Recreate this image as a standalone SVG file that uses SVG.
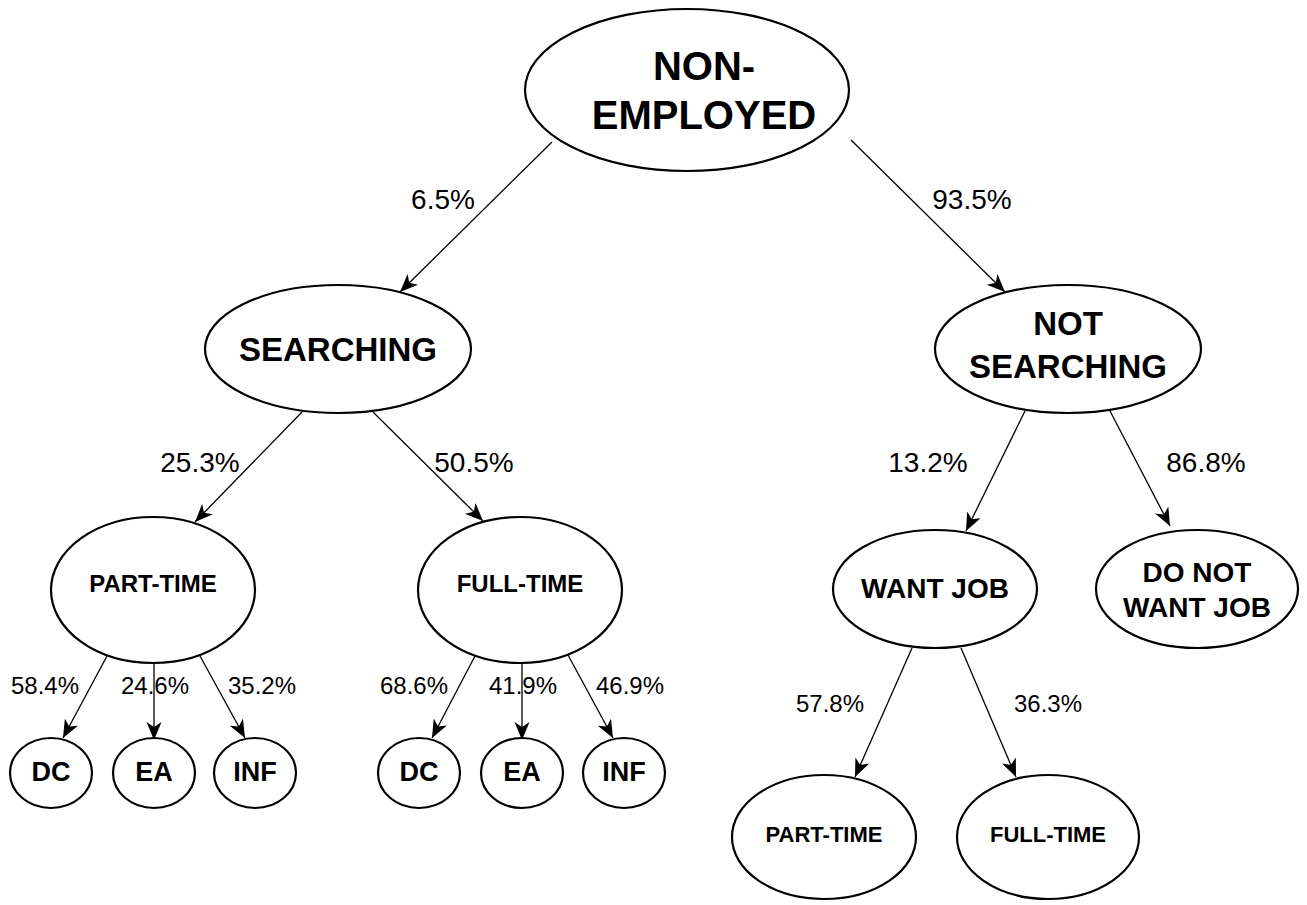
<svg xmlns="http://www.w3.org/2000/svg" width="1307" height="905" viewBox="0 0 1307 905">
<style>
.n{fill:#fff;stroke:#000;stroke-width:2.2}
.t{font-family:"Liberation Sans",Arial,sans-serif;font-weight:bold;text-anchor:middle;fill:#000}
.e{stroke:#000;stroke-width:1.3;fill:none;marker-end:url(#arr)}
.p{font-family:"Liberation Sans",Arial,sans-serif;text-anchor:middle;fill:#000}
</style>
<defs>
<marker id="arr" markerUnits="userSpaceOnUse" markerWidth="20" markerHeight="16" refX="18" refY="7.5" orient="auto">
<path d="M0,0 L18,7.5 L0,15 L5,7.5 Z" fill="#000"/>
</marker>
</defs>
<rect width="1307" height="905" fill="#fff"/>
<g id="connectors">
<line class="e" x1="552" y1="142" x2="400" y2="292"/>
<line class="e" x1="851" y1="140" x2="1005" y2="292"/>
<line class="e" x1="302" y1="412" x2="195" y2="522"/>
<line class="e" x1="373" y1="412" x2="483" y2="521"/>
<line class="e" x1="1025" y1="411" x2="966" y2="531"/>
<line class="e" x1="1110" y1="411" x2="1170" y2="526"/>
<line class="e" x1="107" y1="656" x2="63" y2="738"/>
<line class="e" x1="154" y1="663" x2="154" y2="740"/>
<line class="e" x1="200" y1="656" x2="245" y2="738"/>
<line class="e" x1="475" y1="656" x2="432" y2="738"/>
<line class="e" x1="522" y1="663" x2="522" y2="740"/>
<line class="e" x1="568" y1="655" x2="613" y2="738"/>
<line class="e" x1="912" y1="648" x2="855" y2="777"/>
<line class="e" x1="961" y1="648" x2="1016" y2="777"/>
<g class="p" font-size="28">
<text x="443" y="209">6.5%</text>
<text x="972" y="209">93.5%</text>
<text x="200" y="472">25.3%</text>
<text x="474" y="472">50.5%</text>
<text x="928" y="472">13.2%</text>
<text x="1206" y="472">86.8%</text>
</g>
<g class="p" font-size="24">
<text x="45" y="694">58.4%</text>
<text x="155" y="694">24.6%</text>
<text x="262" y="694">35.2%</text>
<text x="414" y="694">68.6%</text>
<text x="523" y="694">41.9%</text>
<text x="630" y="694">46.9%</text>
<text x="830" y="712">57.8%</text>
<text x="1048" y="712">36.3%</text>
</g>
</g>
<g id="non-employed"><ellipse class="n" cx="687" cy="90" rx="162" ry="81"/><text class="t" font-size="40" x="704" y="80">NON-</text><text class="t" font-size="40" x="704" y="129">EMPLOYED</text></g>
<g id="searching"><ellipse class="n" cx="338" cy="349" rx="133" ry="64"/><text class="t" font-size="33" x="338" y="361">SEARCHING</text></g>
<g id="not-searching"><ellipse class="n" cx="1068" cy="349" rx="133" ry="64"/><text class="t" font-size="33" x="1068" y="335">NOT</text><text class="t" font-size="33" x="1068" y="378">SEARCHING</text></g>
<g id="part-time-1"><ellipse class="n" cx="153" cy="590" rx="102" ry="73"/><text class="t" font-size="24" x="153" y="592">PART-TIME</text></g>
<g id="full-time-1"><ellipse class="n" cx="520" cy="590" rx="102" ry="73"/><text class="t" font-size="24" x="520" y="592">FULL-TIME</text></g>
<g id="want-job"><ellipse class="n" cx="935" cy="589" rx="102" ry="59"/><text class="t" font-size="28" x="935" y="598">WANT JOB</text></g>
<g id="do-not-want-job"><ellipse class="n" cx="1197" cy="589" rx="101" ry="59"/><text class="t" font-size="28" x="1197" y="582">DO NOT</text><text class="t" font-size="28" x="1197" y="617">WANT JOB</text></g>
<g id="dc-1"><ellipse class="n" cx="51" cy="773" rx="41" ry="35"/><text class="t" font-size="27" x="51" y="781">DC</text></g>
<g id="ea-1"><ellipse class="n" cx="154" cy="773" rx="41" ry="35"/><text class="t" font-size="27" x="154" y="781">EA</text></g>
<g id="inf-1"><ellipse class="n" cx="255" cy="773" rx="41" ry="35"/><text class="t" font-size="27" x="255" y="781">INF</text></g>
<g id="dc-2"><ellipse class="n" cx="419" cy="773" rx="41" ry="35"/><text class="t" font-size="27" x="419" y="781">DC</text></g>
<g id="ea-2"><ellipse class="n" cx="522" cy="773" rx="41" ry="35"/><text class="t" font-size="27" x="522" y="781">EA</text></g>
<g id="inf-2"><ellipse class="n" cx="624" cy="773" rx="41" ry="35"/><text class="t" font-size="27" x="624" y="781">INF</text></g>
<g id="part-time-2"><ellipse class="n" cx="824" cy="837" rx="92" ry="62"/><text class="t" font-size="22" x="824" y="842">PART-TIME</text></g>
<g id="full-time-2"><ellipse class="n" cx="1048" cy="837" rx="91" ry="62"/><text class="t" font-size="22" x="1048" y="842">FULL-TIME</text></g>
</svg>
